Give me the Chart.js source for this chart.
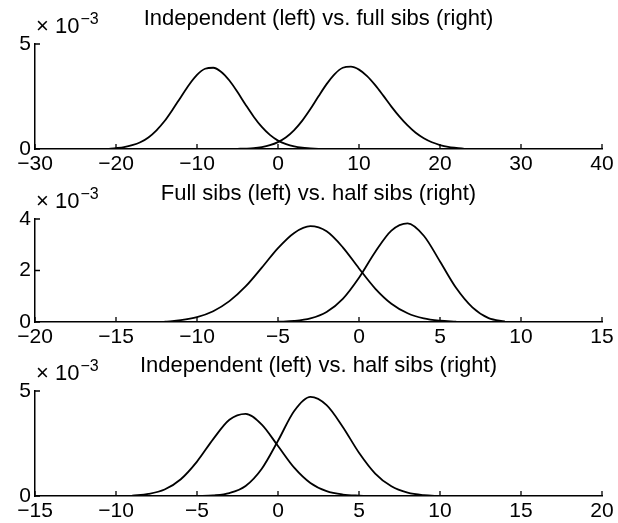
<!DOCTYPE html>
<html>
<head>
<meta charset="utf-8">
<script src="https://cdn.jsdelivr.net/npm/chart.js@4.4.1/dist/chart.umd.min.js"></script>
<style>
  html, body { margin: 0; padding: 0; background: #fff; }
  #wrap { position: relative; width: 618px; height: 523px; overflow: hidden; }
  .panel { position: absolute; left: 0; width: 618px; height: 180px; }
</style>
</head>
<body>
<div id="wrap">
  <div class="panel" style="top:0px"><canvas id="c1"></canvas></div>
  <div class="panel" style="top:172px"><canvas id="c2"></canvas></div>
  <div class="panel" style="top:343px"><canvas id="c3"></canvas></div>
</div>
<script>
// Histogram outlines, y in units of 1e-3.

// Panel 1: independent (left) vs. full sibs (right)
const p1X = [-21, -20, -19, -18, -17, -16, -15, -14, -13, -12, -11, -10, -9, -8, -7, -6, -5, -4, -3, -2, -1,
  0, 1, 2, 3, 4, 5, 6, 7, 8, 9, 10, 11, 12, 13, 14, 15, 16, 17, 18, 19, 20, 21, 22, 23, 24];
const p1Left = [0.00, 0.04, 0.09, 0.18, 0.32, 0.55, 0.89, 1.33, 1.88, 2.47, 3.05, 3.53, 3.82, 3.87, 3.67, 3.26, 2.71, 2.11, 1.54, 1.05, 0.67,
  0.40, 0.23, 0.12, 0.06, 0.03, 0.00, null, null, null, null, null, null, null, null, null, null, null, null, null, null, null, null, null, null, null];
const p1Right = [null, null, null, null, null, null, null, null, null, null, null, null, null, null, null, 0.00, 0.01, 0.02, 0.04, 0.09, 0.18,
  0.33, 0.56, 0.90, 1.35, 1.90, 2.51, 3.09, 3.57, 3.87, 3.92, 3.78, 3.47, 3.04, 2.54, 2.02, 1.54, 1.12, 0.77, 0.51, 0.32, 0.19, 0.10, 0.05, 0.01, null];

// Panel 2: full sibs (left) vs. half sibs (right)
const p2X = [-12, -11, -10, -9, -8, -7, -6, -5, -4, -3, -2, -1, 0, 1, 2, 3, 4, 5, 6, 7, 8, 9, 10];
const p2Left = [0.01, 0.07, 0.19, 0.42, 0.81, 1.38, 2.11, 2.87, 3.46, 3.72, 3.52, 2.90, 2.08, 1.30, 0.71, 0.34, 0.14, 0.05, 0.01, null, null, null, null];
const p2Right = [null, null, null, null, null, null, null, 0.01, 0.04, 0.14, 0.39, 0.90, 1.72, 2.72, 3.55, 3.83, 3.35, 2.35, 1.32, 0.57, 0.15, 0.02, null];

// Panel 3: independent (left) vs. half sibs (right)
const p3X = [-10, -9, -8, -7, -6, -5, -4, -3, -2, -1, 0, 1, 2, 3, 4, 5, 6, 7, 8, 9, 10];
const p3Left = [null, 0.02, 0.10, 0.31, 0.80, 1.64, 2.71, 3.63, 3.91, 3.40, 2.38, 1.35, 0.62, 0.23, 0.07, 0.02, 0.00, null, null, null, null];
const p3Right = [null, null, null, null, null, 0.00, 0.03, 0.14, 0.48, 1.30, 2.63, 4.05, 4.72, 4.33, 3.29, 2.06, 1.07, 0.46, 0.16, 0.04, 0.00];

const titles = [
  'Independent (left) vs. full sibs (right)',
  'Full sibs (left) vs. half sibs (right)',
  'Independent (left) vs. half sibs (right)'
];
const xRanges = [[-30, 40, 10], [-20, 15, 5], [-15, 20, 5]];
const yRanges = [[0, 5, 5], [0, 4, 2], [0, 5, 5]];

const FONT = 'Liberation Sans, Arial, Helvetica, sans-serif';
const INK = '#000';

const minus = v => (v < 0 ? '\u2212' + Math.abs(v) : String(v));

// MATLAB style: short tick marks pointing into the plot
const innerTicks = {
  id: 'innerTicks',
  afterDraw(chart) {
    const { ctx, chartArea } = chart;
    const xs = chart.scales.x, ys = chart.scales.y;
    ctx.save();
    ctx.strokeStyle = INK;
    ctx.lineWidth = 1.3;
    ctx.beginPath();
    xs.ticks.forEach(t => {
      const px = xs.getPixelForValue(t.value);
      ctx.moveTo(px, chartArea.bottom);
      ctx.lineTo(px, chartArea.bottom - 5);
    });
    ys.ticks.forEach(t => {
      const py = ys.getPixelForValue(t.value);
      ctx.moveTo(chartArea.left, py);
      ctx.lineTo(chartArea.left + 5, py);
    });
    ctx.stroke();
    ctx.restore();
  }
};

// the "x 10^-3" exponent above the y axis
const exponent = {
  id: 'exponent',
  afterDraw(chart) {
    const { ctx, chartArea } = chart;
    const x = chartArea.left + 1, y = chartArea.top - 11;
    ctx.save();
    ctx.fillStyle = INK;
    ctx.textBaseline = 'alphabetic';
    ctx.font = '22px ' + FONT;
    ctx.fillText('\u00d7 10', x, y);
    const w = ctx.measureText('\u00d7 10').width;
    ctx.font = '16px ' + FONT;
    ctx.fillText('\u22123', x + w + 1, y - 9);
    ctx.restore();
  }
};

function toPoints(xs, ys) {
  return xs.map((x, i) => ({ x, y: ys[i] }));
}

function histPanel(canvasId, i, xs, left, right, layoutBox) {
  const line = data => ({
    data: toPoints(xs, data),
    borderColor: INK,
    borderWidth: 1.8,
    pointRadius: 0,
    fill: false,
    tension: 0.4,
    cubicInterpolationMode: 'monotone',
    spanGaps: false
  });
  const [xmin, xmax, xstep] = xRanges[i];
  const [ymin, ymax, ystep] = yRanges[i];
  return new Chart(document.getElementById(canvasId), {
    type: 'line',
    data: { datasets: [line(left), line(right)] },
    options: {
      responsive: true,
      maintainAspectRatio: false,
      animation: false,
      layout: { padding: { left: 0, right: 16, top: 0, bottom: 0 } },
      plugins: {
        legend: { display: false },
        tooltip: { enabled: false },
        title: {
          display: true,
          text: titles[i],
          fullSize: false,
          color: INK,
          font: { family: FONT, size: 22, weight: 'normal' },
          padding: { top: layoutBox.titleTop, bottom: layoutBox.titleBottom }
        }
      },
      scales: {
        x: {
          type: 'linear',
          min: xmin, max: xmax,
          ticks: { stepSize: xstep, callback: minus, color: INK, font: { family: FONT, size: 21 }, padding: 3, maxRotation: 0, autoSkip: false },
          grid: { display: true, drawOnChartArea: false, drawTicks: false },
          border: { display: true, color: INK, width: 1.5 },
          afterFit: s => { s.height = layoutBox.xAxisH; }
        },
        y: {
          min: ymin, max: ymax,
          ticks: { stepSize: ystep, color: INK, font: { family: FONT, size: 21 }, padding: 4 },
          grid: { display: true, drawOnChartArea: false, drawTicks: false },
          border: { display: true, color: INK, width: 1.5 },
          afterFit: s => { s.width = 35; }
        }
      }
    },
    plugins: [innerTicks, exponent]
  });
}

histPanel('c1', 0, p1X, p1Left, p1Right, { titleTop: 5.6, titleBottom: 12, xAxisH: 31 });
histPanel('c2', 1, p2X, p2Left, p2Right, { titleTop: 8.6, titleBottom: 12, xAxisH: 30 });
histPanel('c3', 2, p3X, p3Left, p3Right, { titleTop: 9.6, titleBottom: 12, xAxisH: 27 });
</script>
</body>
</html>
